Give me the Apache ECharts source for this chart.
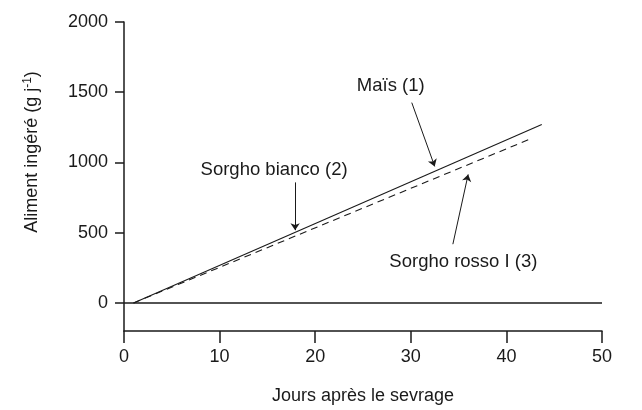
<!DOCTYPE html>
<html>
<head>
<meta charset="utf-8">
<script src="https://cdn.jsdelivr.net/npm/echarts@6/dist/echarts.min.js"></script>
<style>
html,body{margin:0;padding:0;background:#fff;}
#chart{width:642px;height:410px;}
</style>
</head>
<body>
<div id="chart"></div>
<script>
// ---- data ----
var xTicks = [0, 10, 20, 30, 40, 50];
var yTicks = [0, 500, 1000, 1500, 2000];
var maisDays = [1, 43.7];
var maisValues = [0, 1270];
var biancoDays = [1, 42.6];
var biancoValues = [0, 1170];
var zeroDays = [0, 50];
var zeroValues = [0, 0];
var labelNames = ['Maïs (1)', 'Sorgho bianco (2)', 'Sorgho rosso I (3)'];
var labelX = [27.9, 15.7, 35.5];
var labelY = [1545, 945, 290];
var arrowFromX = [30.1, 17.9, 34.4];
var arrowFromY = [1426, 858, 418];
var arrowToX = [32.5, 17.9, 36.0];
var arrowToY = [972, 518, 915];

function pairs(xs, ys) { return xs.map(function (x, i) { return [x, ys[i]]; }); }

var FONT = 'Liberation Sans';
var INK = '#1a1a1a';

var chart = echarts.init(document.getElementById('chart'), null, {renderer: 'canvas'});
var arrows = arrowFromX.map(function (x, i) {
  return [{coord: [x, arrowFromY[i]]}, {coord: [arrowToX[i], arrowToY[i]]}];
});
var labels = labelNames.map(function (n, i) {
  return {name: n, coord: [labelX[i], labelY[i]]};
});

chart.setOption({
  animation: false,
  backgroundColor: '#fff',
  grid: {left: 124, right: 40, top: 22, bottom: 77, containLabel: false},
  xAxis: {
    type: 'value', min: 0, max: 50, interval: 10,
    name: 'Jours après le sevrage', nameLocation: 'middle', nameGap: 56,
    nameTextStyle: {fontFamily: FONT, fontSize: 18, color: INK},
    axisLine: {onZero: false, lineStyle: {color: INK, width: 1.5}},
    axisTick: {length: 12, lineStyle: {color: INK, width: 1.5}},
    axisLabel: {fontFamily: FONT, fontSize: 18, color: INK, margin: 17},
    splitLine: {show: false}
  },
  yAxis: {
    type: 'value', min: -200, max: 2000,
    axisLine: {show: true, onZero: false, lineStyle: {color: INK, width: 1.5}},
    axisTick: {show: true, length: 9, customValues: yTicks, lineStyle: {color: INK, width: 1.5}},
    axisLabel: {fontFamily: FONT, fontSize: 18, color: INK, margin: 16, customValues: yTicks,
      formatter: function (v) { return String(v); }},
    splitLine: {show: false}
  },
  graphic: [{
    type: 'text', x: 32, y: 152, rotation: Math.PI / 2,
    style: {
      text: 'Aliment ingéré (g j{sup|-1})',
      fontFamily: FONT, fontSize: 18, fill: INK,
      align: 'center', verticalAlign: 'middle',
      rich: {sup: {fontFamily: FONT, fontSize: 12, fill: INK, verticalAlign: 'top', padding: [0, 0, 8, 0]}}
    }
  }],
  series: [
    {
      type: 'line', data: pairs(zeroDays, zeroValues), symbol: 'none',
      lineStyle: {color: INK, width: 1.5}, silent: true
    },
    {
      name: 'Maïs (1)', type: 'line', data: pairs(maisDays, maisValues), symbol: 'none',
      lineStyle: {color: INK, width: 1.1}, silent: true,
      markLine: {
        silent: true, symbol: ['none', 'arrow'], symbolSize: 7,
        lineStyle: {color: INK, width: 1, type: 'solid'},
        label: {show: false}, data: arrows
      },
      markPoint: {
        silent: true, symbol: 'circle', symbolSize: 0,
        label: {show: true, position: 'inside', formatter: '{b}', fontFamily: FONT, fontSize: 18.5, color: INK},
        data: labels
      }
    },
    {
      name: 'Sorgho bianco (2)', type: 'line', data: pairs(biancoDays, biancoValues), symbol: 'none',
      lineStyle: {color: INK, width: 1.1, type: [7, 5]}, silent: true
    }
  ]
});
</script>
</body>
</html>
